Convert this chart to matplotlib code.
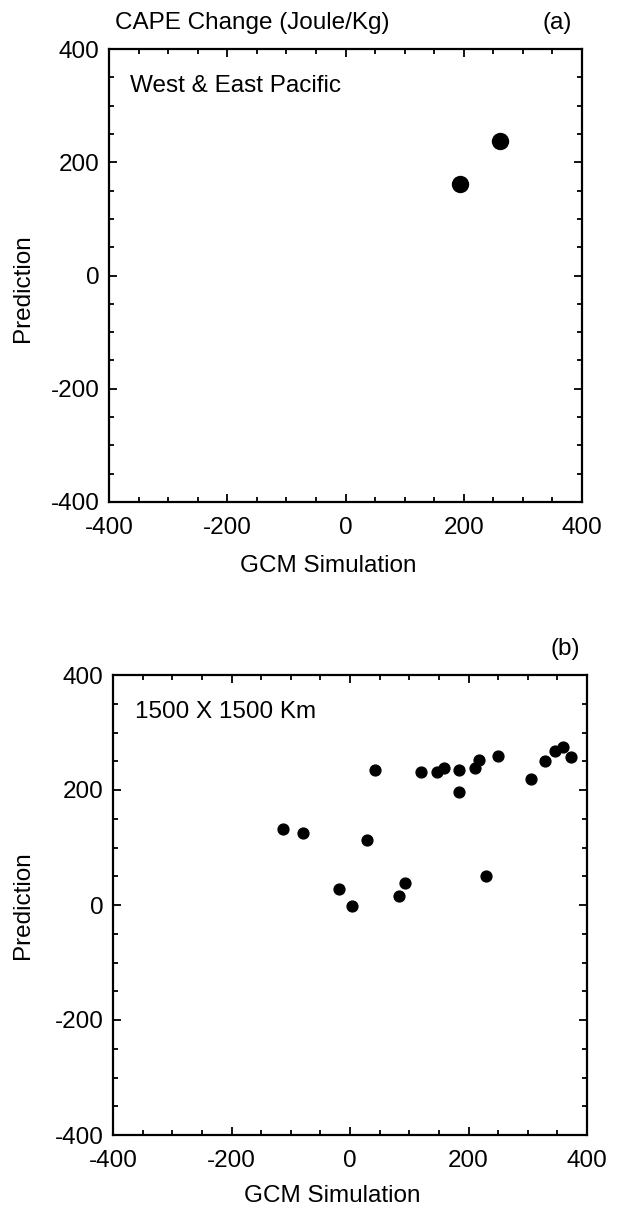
import matplotlib
matplotlib.use("Agg")
import matplotlib.pyplot as plt
from matplotlib.ticker import MultipleLocator

plt.rcParams['font.family'] = ['Liberation Sans', 'DejaVu Sans']

# Panel (a): West & East Pacific
a_gcm = [194, 261]
a_pred = [162, 237]

# Panel (b): 1500 X 1500 Km
b_gcm = [-113, -79, 28, -19, 3, 82, 93, 230, 42, 119, 146, 158, 184, 184,
         211, 218, 250, 306, 329, 346, 360, 373]
b_pred = [133, 125, 113, 27, -2, 16, 39, 51, 234, 232, 231, 238, 235, 197,
          239, 252, 260, 219, 250, 268, 274, 257]

ticks = [-400, -200, 0, 200, 400]
tick_labels = ['-400', '-200', '0', '200', '400']

W, H = 623, 1207
fig = plt.figure(figsize=(W / 100, H / 100), dpi=100)

FS = 17.5

def px_axes(l, t, r, b):
    return fig.add_axes([l / W, 1 - b / H, (r - l) / W, (b - t) / H])

def style(ax):
    ax.set_xlim(-400, 400)
    ax.set_ylim(-400, 400)
    ax.set_xticks(ticks)
    ax.set_xticklabels(tick_labels)
    ax.set_yticks(ticks)
    ax.set_yticklabels(tick_labels)
    ax.xaxis.set_minor_locator(MultipleLocator(50))
    ax.yaxis.set_minor_locator(MultipleLocator(50))
    ax.tick_params(which='both', direction='in', top=True, right=True,
                   width=1.3, colors='black', labelsize=FS)
    ax.tick_params(axis='x', which='major', length=6, pad=11)
    ax.tick_params(axis='y', which='major', length=6, pad=7)
    ax.tick_params(which='minor', length=3.5)
    for s in ax.spines.values():
        s.set_linewidth(1.6)

ax1 = px_axes(109, 49, 582, 502)
style(ax1)
ax1.plot(a_gcm, a_pred, 'o', color='black', markersize=11.5, linestyle='none')

ax2 = px_axes(113, 675, 587, 1135)
style(ax2)
ax2.plot(b_gcm, b_pred, 'o', color='black', markersize=7.8, linestyle='none')

def ftext(x, y, s, **kw):
    fig.text(x / W, 1 - y / H, s, fontsize=FS, **kw)

ftext(115, 29, 'CAPE Change (Joule/Kg)', ha='left', va='baseline')
ftext(572, 29, '(a)', ha='right', va='baseline')
ftext(130, 92, 'West & East Pacific', ha='left', va='baseline')
ftext(328, 572, 'GCM Simulation', ha='center', va='baseline')
ftext(23, 288, 'Prediction', ha='center', va='center', rotation=90)

ftext(580, 655, '(b)', ha='right', va='baseline')
ftext(135, 718, '1500 X 1500 Km', ha='left', va='baseline')
ftext(332, 1202, 'GCM Simulation', ha='center', va='baseline')
ftext(23, 905, 'Prediction', ha='center', va='center', rotation=90)

fig.savefig('out.png', dpi=100)
